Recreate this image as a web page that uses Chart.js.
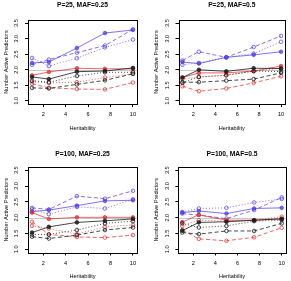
<!DOCTYPE html>
<html><head><meta charset="utf-8">
<script src="https://cdn.jsdelivr.net/npm/chart.js@4.4.0/dist/chart.umd.min.js"></script>
<style>
html,body{margin:0;padding:0;background:#fff;}
#wrap{position:relative;width:291px;height:281px;overflow:hidden;background:#fff;}
canvas{position:absolute;display:block;}
</style></head><body>
<div id="wrap">
<canvas id="k0" width="145" height="140" style="left:0;top:0"></canvas>
<canvas id="k1" width="146" height="140" style="left:145px;top:0"></canvas>
<canvas id="k2" width="145" height="141" style="left:0;top:140px"></canvas>
<canvas id="k3" width="146" height="141" style="left:145px;top:140px"></canvas>
</div>
<script>
// ---------------- data ----------------
const HERITABILITY = [1, 2.5, 5, 7.5, 10];
const X_TICKS = [2, 4, 6, 8, 10];
const X_TICK_LABELS = ["2", "4", "6", "8", "10"];
const Y_TICKS = [1.0, 1.5, 2.0, 2.5, 3.0, 3.5];
const Y_TICK_LABELS = ["1.0", "1.5", "2.0", "2.5", "3.0", "3.5"];
const X_RANGE = [1, 10];
const Y_RANGE = [1, 3.5];
const REF_LEVEL = 2.0;
const TITLES = ["P=25, MAF=0.25", "P=25, MAF=0.5", "P=100, MAF=0.25", "P=100, MAF=0.5"];
const X_LABEL = "Heritability";
const Y_LABEL = "Number Active Predictors";

// P=25, MAF=0.25
const A_blue_solid  = [2.22, 2.25, 2.70, 3.18, 3.28];
const A_blue_dashed = [2.16, 2.33, 2.55, 2.78, 3.30];
const A_blue_dotted = [2.38, 2.12, 2.37, 2.72, 2.97];
const A_red_solid   = [1.82, 1.93, 2.05, 2.03, 2.03];
const A_red_dashed  = [1.55, 1.42, 1.38, 1.37, 1.59];
const A_red_dotted  = [1.62, 1.58, 1.60, 1.75, 1.87];
const A_black_solid = [1.77, 1.70, 1.94, 1.96, 2.06];
const A_black_dashed= [1.42, 1.40, 1.53, 1.66, 1.87];
const A_black_dotted= [1.65, 1.60, 1.80, 1.92, 1.92];
// P=25, MAF=0.5
const B_blue_solid  = [2.25, 2.20, 2.40, 2.48, 2.58];
const B_blue_dashed = [2.30, 2.58, 2.40, 2.73, 3.09];
const B_blue_dotted = [2.16, 2.22, 2.40, 2.52, 2.90];
const B_red_solid   = [1.75, 1.90, 1.90, 1.96, 2.12];
const B_red_dashed  = [1.47, 1.31, 1.40, 1.58, 1.79];
const B_red_dotted  = [1.70, 1.76, 1.83, 1.95, 2.05];
const B_black_solid = [1.75, 2.00, 1.95, 2.05, 2.04];
const B_black_dashed= [1.60, 1.60, 1.65, 1.70, 1.90];
const B_black_dotted= [1.58, 1.77, 1.82, 1.96, 1.94];
// P=100, MAF=0.25
const C_blue_solid  = [2.19, 2.24, 2.38, 2.53, 2.55];
const C_blue_dashed = [2.31, 2.26, 2.68, 2.60, 2.85];
const C_blue_dotted = [2.26, 2.11, 2.34, 2.29, 2.58];
const C_red_solid   = [2.16, 1.96, 2.01, 2.01, 2.01];
const C_red_dashed  = [1.87, 1.47, 1.39, 1.37, 1.45];
const C_red_dotted  = [1.74, 1.66, 1.48, 1.71, 1.77];
const C_black_solid = [1.53, 1.71, 1.85, 1.90, 1.96];
const C_black_dashed= [1.40, 1.34, 1.45, 1.61, 1.69];
const C_black_dotted= [1.47, 1.47, 1.61, 1.82, 1.89];
// P=100, MAF=0.5
const D_blue_solid  = [2.16, 2.21, 2.13, 2.29, 2.31];
const D_blue_dashed = [2.13, 2.08, 1.97, 2.24, 2.64];
const D_blue_dotted = [2.18, 2.29, 2.31, 2.48, 2.59];
const D_red_solid   = [1.86, 2.09, 1.92, 1.92, 1.97];
const D_red_dashed  = [1.61, 1.33, 1.27, 1.38, 1.68];
const D_red_dotted  = [1.74, 1.92, 1.89, 1.92, 2.03];
const D_black_solid = [1.59, 1.85, 1.87, 1.92, 1.96];
const D_black_dashed= [1.53, 1.48, 1.58, 1.58, 1.82];
const D_black_dotted= [1.82, 1.69, 1.74, 1.89, 1.92];

const PANEL_SERIES = [
  [A_black_solid, A_black_dashed, A_black_dotted, A_red_solid, A_red_dashed, A_red_dotted, A_blue_solid, A_blue_dashed, A_blue_dotted],
  [B_black_solid, B_black_dashed, B_black_dotted, B_red_solid, B_red_dashed, B_red_dotted, B_blue_solid, B_blue_dashed, B_blue_dotted],
  [C_black_solid, C_black_dashed, C_black_dotted, C_red_solid, C_red_dashed, C_red_dotted, C_blue_solid, C_blue_dashed, C_blue_dotted],
  [D_black_solid, D_black_dashed, D_black_dotted, D_red_solid, D_red_dashed, D_red_dotted, D_blue_solid, D_blue_dashed, D_blue_dotted]
];

// ---------------- styles / layout ----------------
const FONT = "'Liberation Sans', Arial, Helvetica, sans-serif";
const COLORS = ["rgba(25,25,25,0.8)", "rgba(225,45,45,0.72)", "rgba(80,60,230,0.72)"];
const DASHES = [[], [4, 2.5], [1, 2]];
// per panel: box left,right,top,bottom, title centre y (canvas px)
const LAYOUT = [
  {L: 28,   R: 137, T: 20, B: 104,   tc: 5.5,  h: 140},
  {L: 33.5, R: 140, T: 20, B: 104,   tc: 5.5,  h: 140},
  {L: 28,   R: 137, T: 27, B: 112.5, tc: 13.7, h: 141},
  {L: 33.3, R: 140.7, T: 27, B: 112.5, tc: 13.7, h: 141}
];
const W = [145, 146, 145, 146];

const boxPlugin = {
  id: 'rbox',
  beforeDatasetsDraw(chart) {
    const {ctx, chartArea: a, scales: {y}} = chart;
    const py = Math.round(y.getPixelForValue(REF_LEVEL)) + 0.5;
    ctx.save();
    ctx.strokeStyle = '#c8c8c8';
    ctx.lineWidth = 1;
    ctx.beginPath(); ctx.moveTo(a.left, py); ctx.lineTo(a.right, py); ctx.stroke();
    ctx.restore();
  },
  afterDatasetsDraw(chart) {
    const {ctx, chartArea: a} = chart;
    ctx.save();
    ctx.strokeStyle = '#000';
    ctx.lineWidth = 1;
    const l = Math.round(a.left) + 0.5, t = Math.round(a.top) + 0.5;
    const r = Math.round(a.right) + 0.5, b = Math.round(a.bottom) + 0.5;
    ctx.strokeRect(l, t, r - l, b - t);
    ctx.restore();
  }
};

const TF = 6.7, BF = 5.6;
const xpad = (X_RANGE[1] - X_RANGE[0]) * 0.04;
const ypad = (Y_RANGE[1] - Y_RANGE[0]) * 0.04;

PANEL_SERIES.forEach((series, p) => {
  const lay = LAYOUT[p];
  const datasets = series.map((vals, i) => {
    const c = COLORS[Math.floor(i / 3)];
    const kind = i % 3;
    return {
      data: HERITABILITY.map((h, j) => ({x: h, y: vals[j]})),
      borderColor: c,
      backgroundColor: kind === 0 ? c : 'rgba(0,0,0,0)',
      borderWidth: 1,
      borderDash: DASHES[kind],
      pointRadius: 1.8,
      pointBorderWidth: 1,
      pointBorderColor: c,
      pointBackgroundColor: kind === 0 ? c : 'rgba(255,255,255,0)',
      tension: 0,
      fill: false
    };
  });
  const tLH = TF * 1.2;
  const bLH = BF * 1.2;
  new Chart(document.getElementById('k' + p), {
    type: 'line',
    data: {datasets},
    plugins: [boxPlugin],
    options: {
      responsive: false,
      animation: false,
      events: [],
      layout: {padding: {left: 0, top: 0, bottom: 0, right: W[p] - lay.R}},
      plugins: {
        legend: {display: false},
        tooltip: {enabled: false},
        title: {
          display: true, text: TITLES[p], fullSize: false, color: '#000',
          font: {family: FONT, size: TF, weight: 'bold', lineHeight: 1.2},
          padding: {top: lay.tc - tLH / 2, bottom: lay.T - lay.tc - tLH / 2}
        }
      },
      scales: {
        x: {
          type: 'linear', min: X_RANGE[0] - xpad, max: X_RANGE[1] + xpad,
          afterBuildTicks: s => { s.ticks = X_TICKS.map(v => ({value: v})); },
          afterFit: s => { s.height = lay.h - lay.B; s.paddingLeft = 0; s.paddingRight = 0; },
          ticks: {
            callback: (v, i) => X_TICK_LABELS[i], autoSkip: false, maxRotation: 0, minRotation: 0,
            padding: 4.5, color: '#000', font: {family: FONT, size: BF, lineHeight: 1.2}
          },
          grid: {display: true, drawOnChartArea: false, drawTicks: true, tickLength: 3, color: '#000', lineWidth: 1},
          border: {display: false},
          title: {
            display: true, text: X_LABEL, color: '#000',
            font: {family: FONT, size: BF, lineHeight: 1.2},
            padding: {top: 0, bottom: (lay.h - lay.B) - 24.3 - bLH / 2}
          }
        },
        y: {
          type: 'linear', min: Y_RANGE[0] - ypad, max: Y_RANGE[1] + ypad,
          afterBuildTicks: s => { s.ticks = Y_TICKS.map(v => ({value: v})); },
          afterFit: s => { s.width = lay.L; s.paddingTop = 0; s.paddingBottom = 0; },
          ticks: {
            callback: (v, i) => Y_TICK_LABELS[i], autoSkip: false, minRotation: 90, maxRotation: 90,
            crossAlign: 'center', padding: 4.2, color: '#000', font: {family: FONT, size: BF, lineHeight: 1.2}
          },
          grid: {display: true, drawOnChartArea: false, drawTicks: true, tickLength: 3, color: '#000', lineWidth: 1},
          border: {display: false},
          title: {
            display: true, text: Y_LABEL, color: '#000',
            font: {family: FONT, size: BF, lineHeight: 1.2},
            padding: {top: lay.L - 21.6 - bLH / 2, bottom: 0}
          }
        }
      }
    }
  });
});
</script>
</body></html>
